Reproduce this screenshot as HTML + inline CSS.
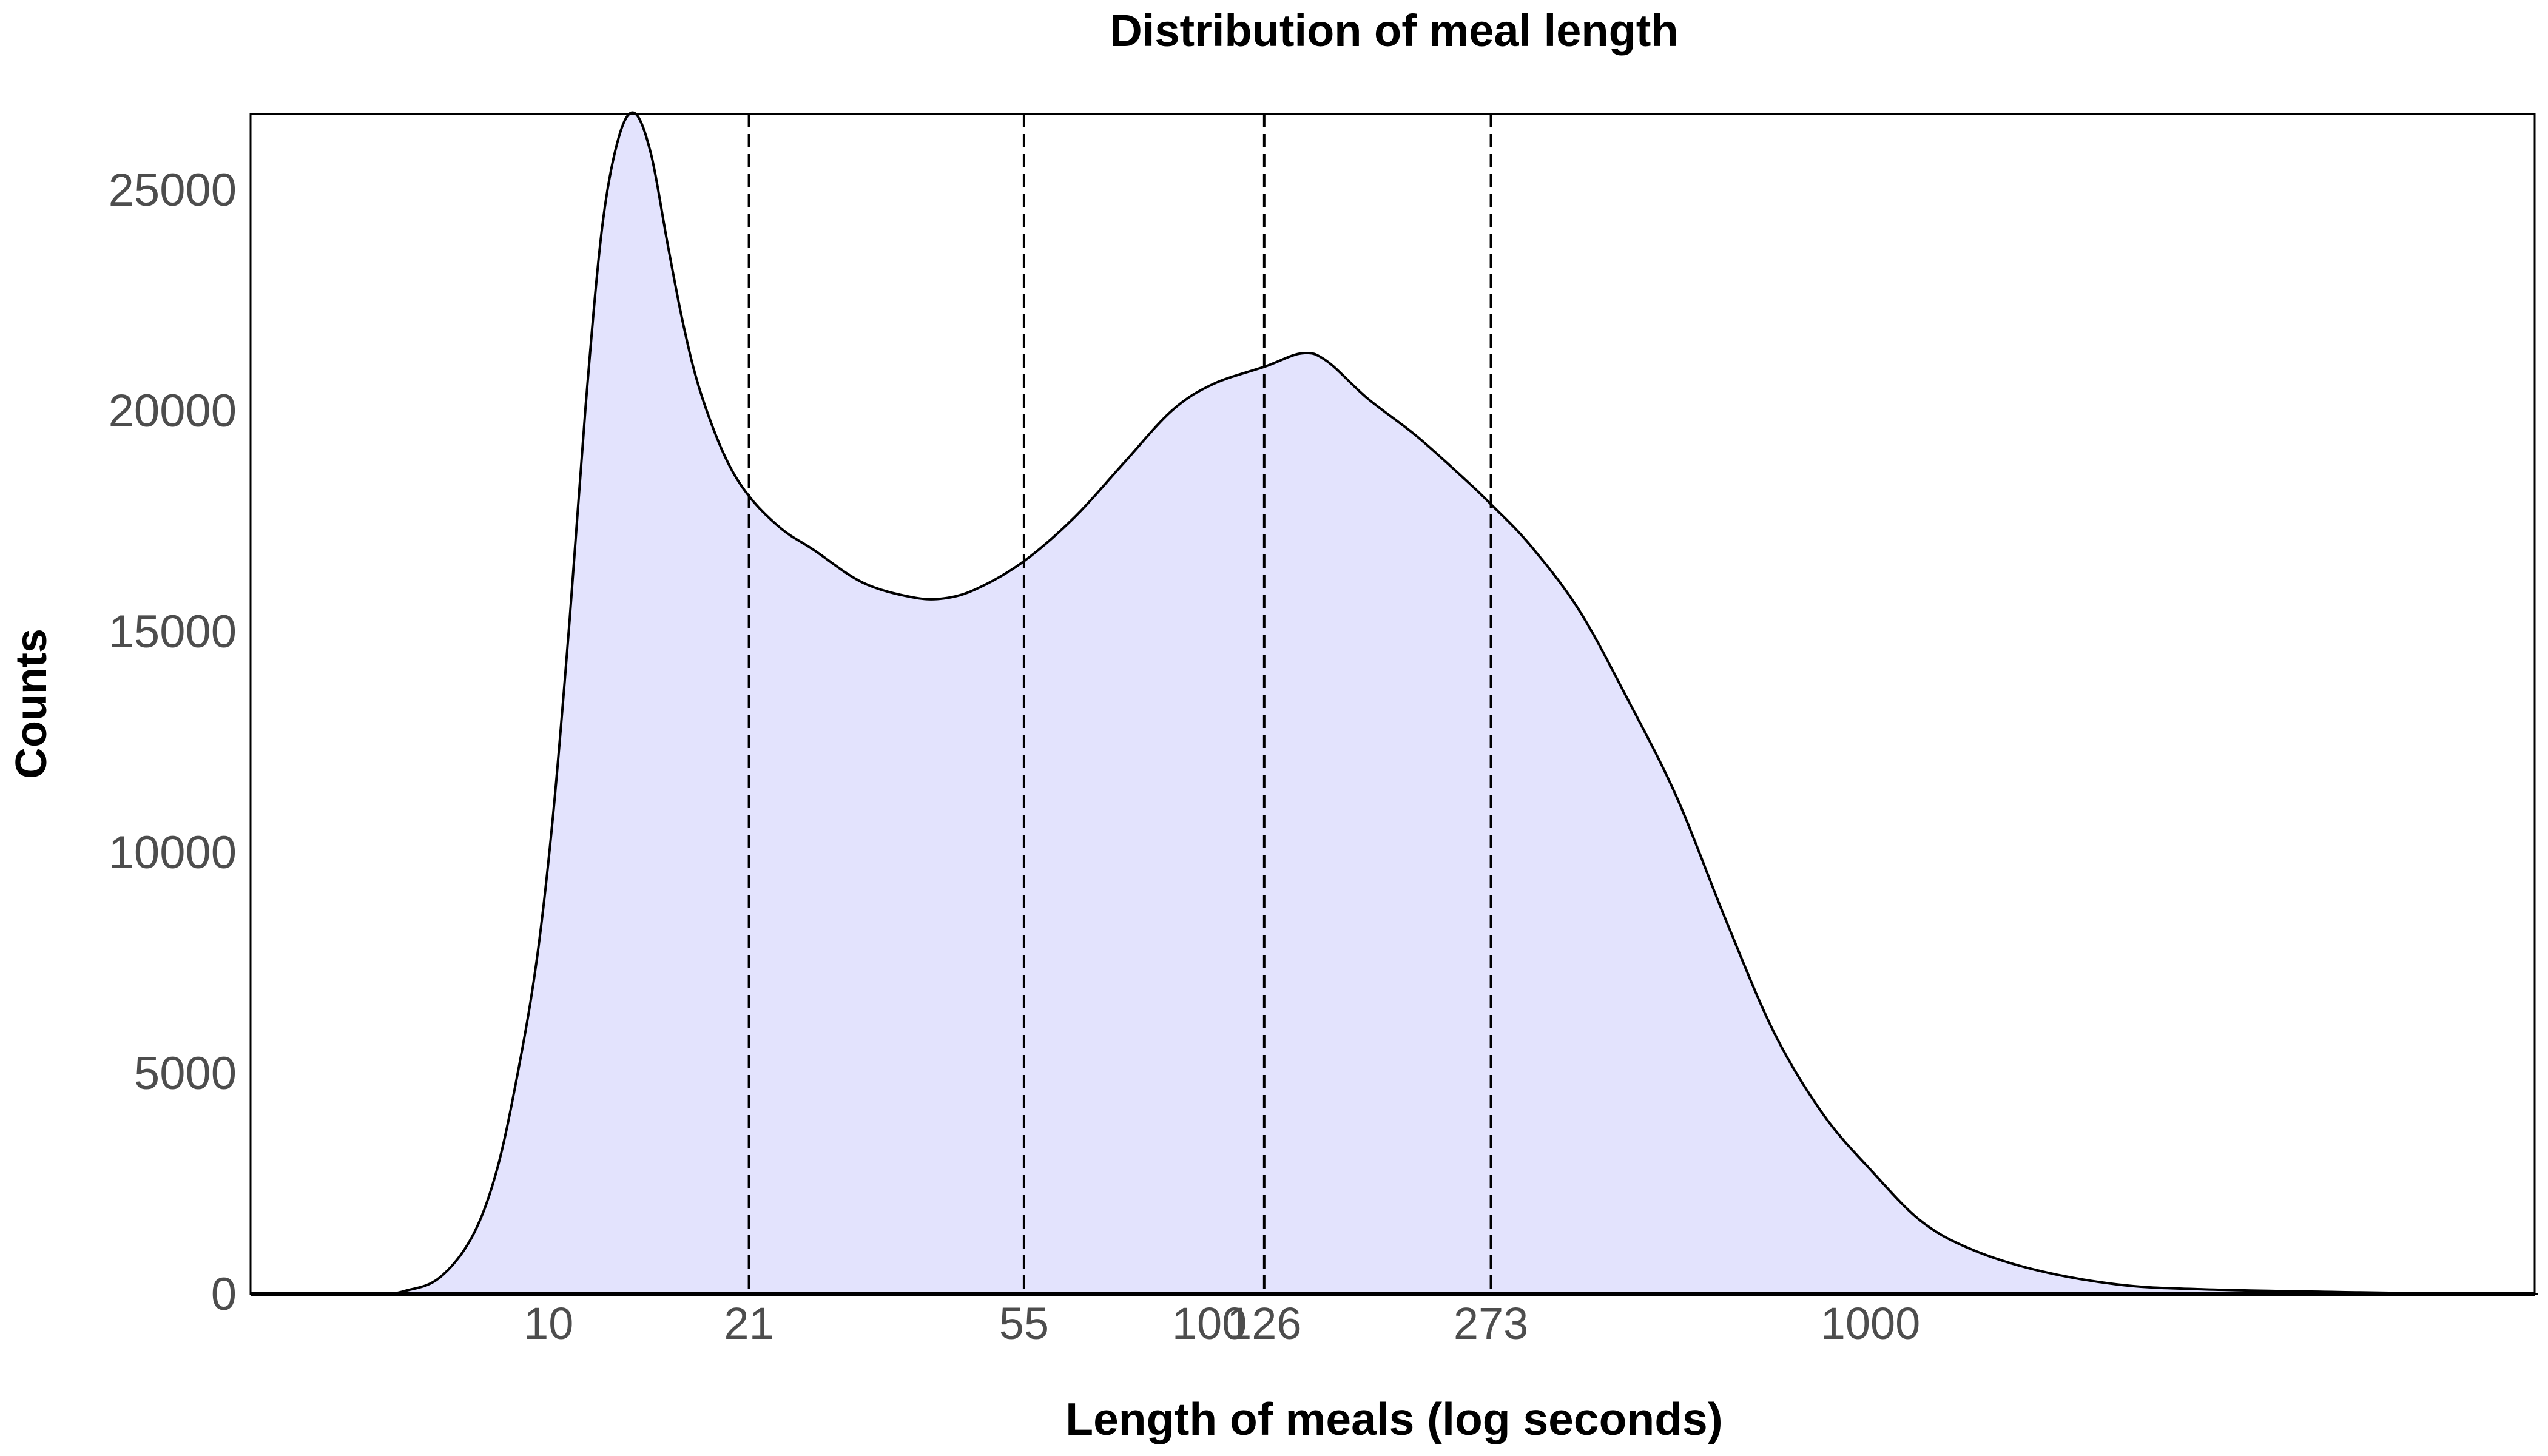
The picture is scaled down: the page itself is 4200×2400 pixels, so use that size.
<!DOCTYPE html>
<html><head><meta charset="utf-8"><style>
html,body{margin:0;padding:0;background:#fff;}
svg{display:block;font-family:"Liberation Sans",Arial,sans-serif;}
</style></head><body>
<svg id="chart" width="4200" height="2400" viewBox="0 0 4200 2400">
<text x="2298" y="76" text-anchor="middle" font-size="74" font-weight="bold">Distribution of meal length</text>
<g id="plot"></g>
<text x="2298" y="2365" text-anchor="middle" font-size="75" font-weight="bold">Length of meals (log seconds)</text>
<text x="0" y="0" transform="translate(76,1160) rotate(-90)" text-anchor="middle" font-size="72" font-weight="bold">Counts</text>
</svg>
<script>
const logSeconds=[0.549,0.736,0.785,0.835,0.884,0.921,0.953,0.982,1.007,1.032,1.056,1.081,1.106,1.130,1.155,1.180,1.204,1.229,1.266,1.303,1.352,1.401,1.475,1.549,1.598,1.648,1.719,1.796,1.870,1.943,2.005,2.084,2.140,2.177,2.239,2.313,2.387,2.426,2.485,2.559,2.633,2.707,2.781,2.855,2.929,3.003,3.076,3.150,3.249,3.372,3.495,3.741,3.939,4.01];
const counts=[0,0,80,370,1290,2770,4980,7560,10880,15300,20100,24150,26180,26740,25810,23780,21940,20460,18990,18070,17330,16850,16110,15780,15750,15970,16590,17590,18810,20000,20600,21000,21300,21130,20280,19430,18440,17880,16960,15490,13460,11250,8480,5900,4060,2770,1660,1030,550,220,110,37,0,0];
const quantiles=[20.1,52.4,121,266.6];
const quantileLabels=["21","55","126","273"];
const xBreaks=[10,100,1000];
const xBreakLabels=["10","100","1000"];
const yTicks=[0,5000,10000,15000,20000,25000];
const yTickLabels=["0","5000","10000","15000","20000","25000"];

const L=413,R=4178,T=188,B=2133;
const xMinLog=Math.log10(3.54),xMaxLog=Math.log10(10120);
function xLog(l){return L+(l-xMinLog)/(xMaxLog-xMinLog)*(R-L);}
function xs(v){return xLog(Math.log10(v));}
function ys(v){return B-v/25000*(B-313);}
const NS="http://www.w3.org/2000/svg";
const g=document.getElementById('plot');
function mk(t,a){const e=document.createElementNS(NS,t);for(const k in a)e.setAttribute(k,a[k]);g.appendChild(e);return e;}

const pts=logSeconds.map((l,i)=>[xLog(l),ys(counts[i])]);
let d="M"+pts[0][0]+","+pts[0][1];
for(let i=0;i<pts.length-1;i++){
 const p0=pts[Math.max(0,i-1)],p1=pts[i],p2=pts[i+1],p3=pts[Math.min(pts.length-1,i+2)];
 const c1=[p1[0]+(p2[0]-p0[0])/6,p1[1]+(p2[1]-p0[1])/6];
 const c2=[p2[0]-(p3[0]-p1[0])/6,p2[1]-(p3[1]-p1[1])/6];
 d+=` C${c1[0]},${Math.min(B,c1[1])} ${c2[0]},${Math.min(B,c2[1])} ${p2[0]},${p2[1]}`;
}
const area=mk('path',{d:d+` L${pts[pts.length-1][0]},${B} L${pts[0][0]},${B} Z`,fill:'#e3e3fd',stroke:'none'});


const line=mk('path',{d:d,fill:'none',stroke:'#000','stroke-width':4});



quantiles.forEach((q,i)=>{
 const x=xs(q);
 const l=mk('line',{x1:x,x2:x,y1:T,y2:B,stroke:'#000','stroke-width':4,'stroke-dasharray':'22,11'});
 
 
 const t=mk('text',{x:x,y:2207,'text-anchor':'middle','font-size':74,fill:'#4d4d4d'});
 t.textContent=quantileLabels[i];
 
 
});
xBreaks.forEach((b,i)=>{
 const t=mk('text',{x:xs(b),y:2207,'text-anchor':'middle','font-size':74,fill:'#4d4d4d'});
 t.textContent=xBreakLabels[i];
 
 
});
yTicks.forEach((v,i)=>{
 const t=mk('text',{x:390,y:ys(v)+26,'text-anchor':'end','font-size':76,fill:'#4d4d4d'});
 t.textContent=yTickLabels[i];
 
 
});
const border=mk('rect',{x:L,y:T,width:R-L,height:B-T,fill:'none',stroke:'#000','stroke-width':3});


const axis=mk('line',{x1:L,x2:R,y1:B,y2:B,stroke:'#000','stroke-width':6});


</script>
</body></html>
